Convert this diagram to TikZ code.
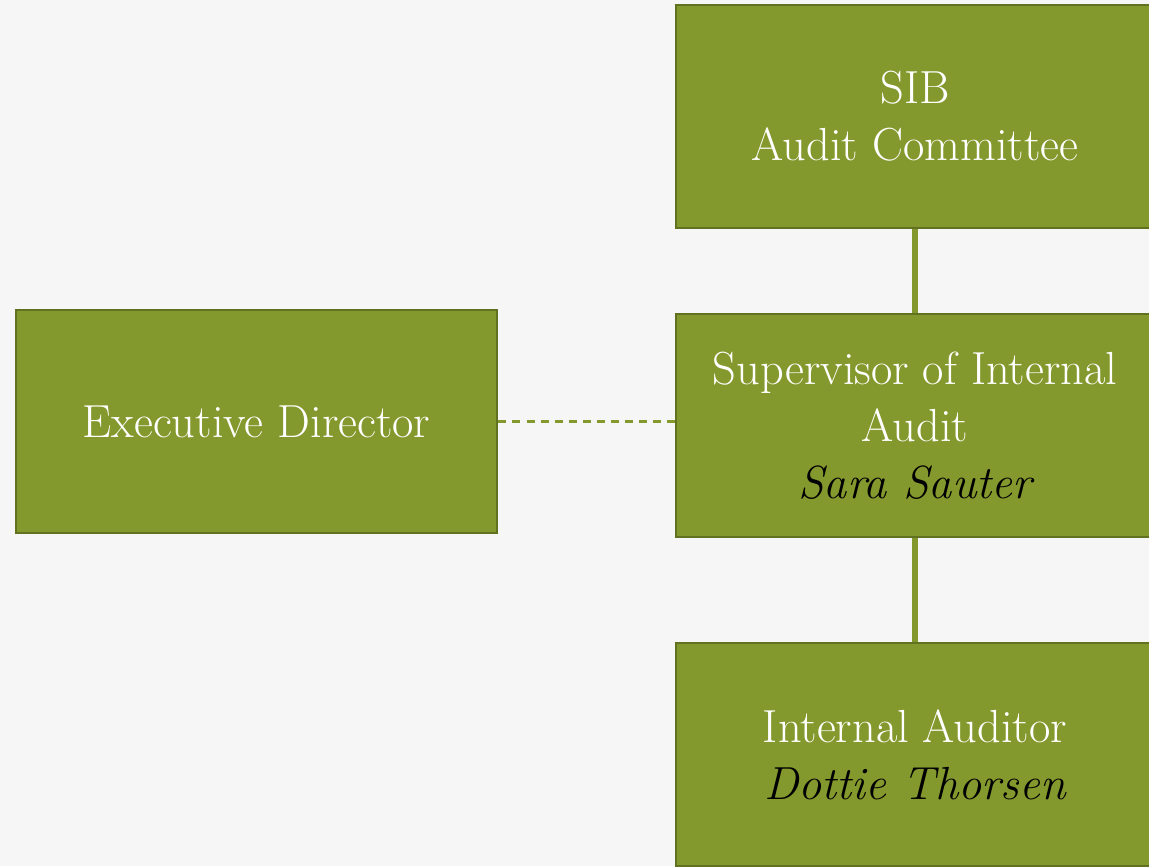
\documentclass[tikz,border=0pt]{standalone}
\usepackage[usenames,dvipsnames]{xcolor}
\usepackage{tikz}
\pgfdeclarelayer{edgelayer}
\pgfdeclarelayer{nodelayer}
\pgfsetlayers{main,edgelayer,nodelayer}
\definecolor{olive}{RGB}{132,153,45}
\definecolor{darkolive}{RGB}{96,114,32}
\definecolor{paper}{RGB}{246,246,246}
\tikzstyle{post}=[rectangle, fill=olive, draw=darkolive, line width=2pt, text=white, align=center, minimum width=11.95cm, minimum height=5.575cm, font=\fontsize{33}{40.5}\selectfont]
\tikzstyle{line}=[-, draw=olive, line width=3.6pt]
\tikzstyle{advisory}=[-, draw=olive, line width=2pt, dash pattern=on 5.7pt off 4.3pt]

\begin{document}
\begin{tikzpicture}
            \fill [paper] (0, 0) rectangle (28.725, 21.65);
            \useasboundingbox (0, 0) rectangle (28.725, 21.65);
            \begin{pgfonlayer}{nodelayer}
                \node [style=post] (committee) at (22.875, 18.7375) {SIB\\Audit Committee};
                \node [style=post] (supervisor) at (22.875, 11.0125) {Supervisor of Internal\\Audit\\{\color{black}\itshape Sara Sauter}};
                \node [style=post] (auditor) at (22.875, 2.7875) {Internal Auditor\\{\color{black}\itshape Dottie Thorsen}};
                \node [style=post, minimum width=12.025cm] (director) at (6.4125, 11.1125) {Executive Director};
            \end{pgfonlayer}
            \begin{pgfonlayer}{edgelayer}
                \draw [style=line] (committee) to (supervisor);
                \draw [style=line] (supervisor) to (auditor);
                \draw [style=advisory] (director.east) to (director.east -| supervisor.west);
            \end{pgfonlayer}
        \end{tikzpicture}
\end{document}
